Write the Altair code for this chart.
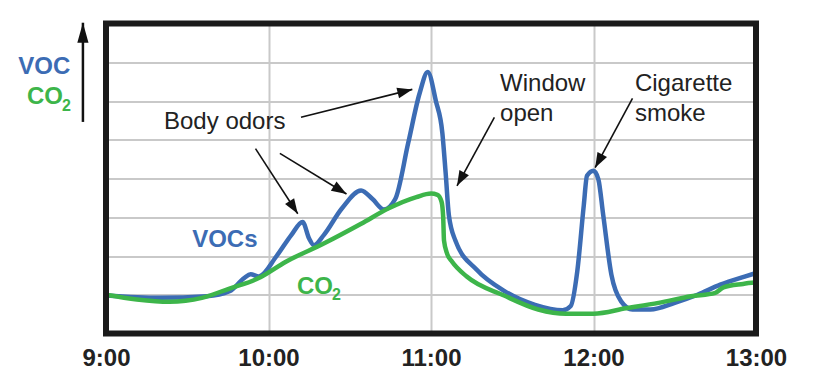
import math
import altair as alt
import pandas as pd

# ---- data (time in hours, value in grid units) ----
voc_t = [9.0, 9.33, 9.62, 9.76, 9.85, 9.89, 9.94, 10.05, 10.14, 10.21, 10.25, 10.28,
         10.34, 10.45, 10.57, 10.64, 10.71, 10.78, 10.86, 10.93, 10.98, 11.03, 11.07,
         11.09, 11.11, 11.15, 11.28, 11.45, 11.64, 11.81, 11.86, 11.9, 11.94, 11.96,
         12.0, 12.03, 12.06, 12.11, 12.17, 12.24, 12.35, 12.5, 12.64, 12.78, 12.93, 13.0]
voc_v = [0.98, 0.92, 0.96, 1.09, 1.43, 1.53, 1.47, 2.0, 2.54, 2.88, 2.45, 2.28,
         2.54, 3.22, 3.69, 3.47, 3.2, 3.47, 4.92, 6.2, 6.75, 6.0, 5.17,
         4.15, 3.05, 2.4, 1.65, 1.1, 0.74, 0.6, 0.71, 1.6, 3.3, 4.07,
         4.2, 3.98, 3.05, 1.52, 0.83, 0.62, 0.62, 0.79, 1.0, 1.26, 1.47, 1.56]

co2_t = [9.0, 9.19, 9.39, 9.59, 9.76, 9.94, 10.11, 10.34, 10.57, 10.74, 10.91, 11.0,
         11.04, 11.065, 11.075, 11.08, 11.1, 11.13, 11.22, 11.45, 11.66, 11.83, 12.0,
         12.2, 12.4, 12.6, 12.75, 12.8, 12.92, 13.0]
co2_v = [1.0, 0.88, 0.82, 0.92, 1.16, 1.43, 1.86, 2.32, 2.83, 3.23, 3.52, 3.61,
         3.58, 3.4, 3.0, 2.4, 2.05, 1.85, 1.47, 0.98, 0.62, 0.51, 0.51,
         0.65, 0.79, 0.96, 1.05, 1.19, 1.28, 1.32]

tick_hours = [9, 10, 11, 12, 13]
grid_values = [0, 1, 2, 3, 4, 5, 6, 7, 8]

ann_text = ["Body odors", "Window", "open", "Cigarette", "smoke"]
ann_t = [9.357, 11.425, 11.425, 12.255, 12.255]
ann_v = [5.28, 6.27, 5.49, 6.26, 5.49]

arrow_t1 = [10.2, 9.92, 10.07, 11.39, 12.24]
arrow_v1 = [5.58, 4.77, 4.65, 5.58, 6.07]
arrow_t2 = [10.885, 10.18, 10.48, 11.16, 12.01]
arrow_v2 = [6.3, 3.09, 3.6, 3.81, 4.28]

axis_arrow_t = [8.858]
axis_arrow_v1 = [5.46]
axis_arrow_v2 = [8.02]

# series labels
voc_label = {"text": ["VOCs"], "t": [9.53], "v": [2.22]}
co2_label = {"text": ["CO"], "t": [10.175], "v": [1.03]}
co2_sub = {"text": ["2"], "t": [10.39], "v": [0.876]}
left_voc = {"text": ["VOC"], "t": [8.46], "v": [6.70]}
left_co = {"text": ["CO"], "t": [8.514], "v": [5.93]}
left_sub = {"text": ["2"], "t": [8.729], "v": [5.75]}

W, H = 650, 310
X0, X1, Y0, Y1 = 9, 13, 0, 8
BLUE = "#3c6cb4"
GREEN = "#3db54a"
FONT = "Liberation Sans"

xs = alt.Scale(domain=[X0, X1], nice=False, zero=False)
ys = alt.Scale(domain=[Y0, Y1], nice=False, zero=False)

xaxis = alt.Axis(values=tick_hours, labelExpr="datum.value + ':00'", grid=True,
                 gridColor="#c9c9c9", gridWidth=2, domain=False, ticks=False,
                 labelFontSize=24, labelFontWeight="bold", labelFont=FONT,
                 labelColor="#222222", labelPadding=13, labelFlush=False,
                 labelOverlap=False, title=None)
yaxis = alt.Axis(values=grid_values, grid=True, gridColor="#c9c9c9", gridWidth=2,
                 labels=False, ticks=False, domain=False, title=None)


def X(field):
    return alt.X(field, scale=xs, axis=xaxis)


def Y(field):
    return alt.Y(field, scale=ys, axis=yaxis)


voc = pd.DataFrame({"t": voc_t, "v": voc_v})
co2 = pd.DataFrame({"t": co2_t, "v": co2_v})

line_voc = alt.Chart(voc).mark_line(color=BLUE, strokeWidth=4.5, interpolate="monotone").encode(
    x=X("t:Q"), y=Y("v:Q"))
line_co2 = alt.Chart(co2).mark_line(color=GREEN, strokeWidth=4.5, interpolate="monotone").encode(
    x=X("t:Q"), y=Y("v:Q"))

frame = alt.Chart(pd.DataFrame({"a": [X0], "b": [X1], "c": [Y0], "d": [Y1]})).mark_rect(
    filled=False, stroke="#1a1a1a", strokeWidth=6).encode(
    x=X("a:Q"), x2="b:Q", y=Y("c:Q"), y2="d:Q")

ann = alt.Chart(pd.DataFrame({"t": ann_t, "v": ann_v, "text": ann_text})).mark_text(
    align="left", baseline="alphabetic", font=FONT, fontSize=24, color="#222222").encode(
    x=X("t:Q"), y=Y("v:Q"), text="text:N")

# arrows
px_per_t = W / (X1 - X0)
px_per_v = H / (Y1 - Y0)
arr = pd.DataFrame({"t1": arrow_t1, "v1": arrow_v1, "t2": arrow_t2, "v2": arrow_v2})
arr["angle"] = [
    math.degrees(math.atan2((b - a) * px_per_t, (d - c) * px_per_v)) % 360
    for a, b, c, d in zip(arr.t1, arr.t2, arr.v1, arr.v2)
]
arrow_lines = alt.Chart(arr).mark_rule(color="#111111", strokeWidth=1.6).encode(
    x=X("t1:Q"), y=Y("v1:Q"), x2="t2:Q", y2="v2:Q")
HEAD = "M0,0L-0.36,1L0.36,1Z"
arrow_heads = alt.Chart(arr).mark_point(shape=HEAD, filled=True, color="#111111",
                                        opacity=1, size=4 * 15 * 15).encode(
    x=X("t2:Q"), y=Y("v2:Q"),
    angle=alt.Angle("angle:Q", scale=None))

ax = pd.DataFrame({"t": axis_arrow_t, "v1": axis_arrow_v1, "v2": axis_arrow_v2})
ax_line = alt.Chart(ax).mark_rule(color="#111111", strokeWidth=2.5).encode(
    x=X("t:Q"), y=Y("v1:Q"), y2="v2:Q")
ax_head = alt.Chart(ax).mark_point(shape="M0,0L-0.28,1L0.28,1Z", filled=True,
                                   color="#111111", opacity=1, size=4 * 20 * 20).encode(
    x=X("t:Q"), y=Y("v2:Q"))


def label(d, color, size):
    return alt.Chart(pd.DataFrame(d)).mark_text(
        align="left", baseline="alphabetic", font=FONT, fontSize=size,
        fontWeight="bold", color=color).encode(
        x=X("t:Q"), y=Y("v:Q"), text="text:N")


labels = [
    label(voc_label, BLUE, 24), label(co2_label, GREEN, 24), label(co2_sub, GREEN, 16),
    label(left_voc, BLUE, 24), label(left_co, GREEN, 24), label(left_sub, GREEN, 16),
]

chart = alt.layer(
    line_voc, line_co2, ann, arrow_lines, arrow_heads, ax_line, ax_head, *labels, frame
).properties(
    width=W, height=H,
    autosize=alt.AutoSizeParams(type="none"),
    padding={"left": 98, "top": 15.5, "right": 58, "bottom": 38},
    background="white",
).configure_view(stroke=None)

chart.save("out.html", embed_options={"renderer": "svg", "actions": False})
